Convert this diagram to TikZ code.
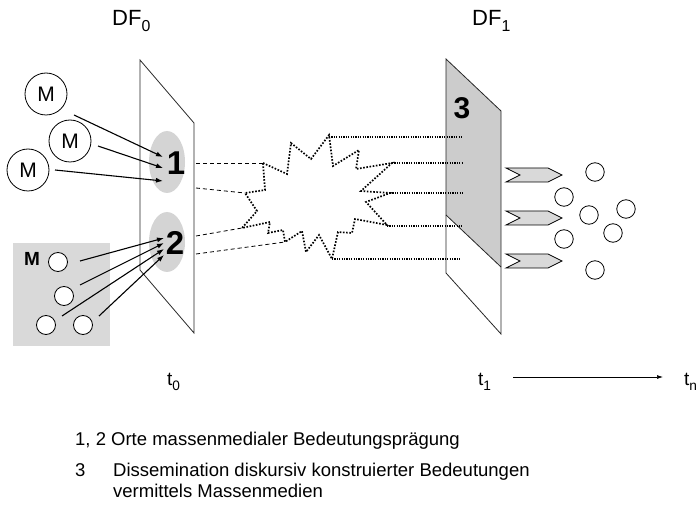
\documentclass[tikz,border=0pt]{standalone}
\usepackage{fontspec}
\setmainfont{Liberation Sans}
\usetikzlibrary{arrows.meta,shapes.geometric}
\newcommand{\lsub}[1]{\raisebox{-0.27em}{\scalebox{0.72}{#1}}}
\begin{document}
\begin{tikzpicture}[x=1pt,y=-1pt,
 plane/.style={draw=black!85,line width=0.8pt},
 hatch/.style={fill=black!17},
 mcirc/.style={circle,draw,line width=0.8pt,minimum size=42pt,inner sep=0pt,font=\fontsize{21}{21}\selectfont},
 scirc/.style={circle,draw,line width=0.8pt,minimum size=19pt,inner sep=0pt,fill=white},
 arr/.style={-{Latex[length=7pt,width=5pt]},line width=1.1pt},
 dline/.style={dash pattern=on 4pt off 3pt,line width=0.8pt},
 dotl/.style={dash pattern=on 1.6pt off 1.6pt,line width=1.7pt},
 dotr/.style={dash pattern=on 1.2pt off 1.2pt,line width=1.2pt},
 big/.style={font=\fontsize{33}{33}\selectfont\bfseries,inner sep=0pt},
 lbl/.style={font=\fontsize{22}{22}\selectfont,inner sep=0pt,anchor=base west},
 tlbl/.style={font=\fontsize{19}{19}\selectfont,inner sep=0pt,anchor=base west},
 leg/.style={font=\fontsize{18.5}{18.5}\selectfont,inner sep=0pt,anchor=base west},
 chev/.style={draw,line width=0.8pt,fill=black!15}
]
\useasboundingbox (0,0) rectangle (699,505);

% headings
\node[lbl] (df0) at (112,26) {DF\lsub{0}};
\node[lbl] (df1) at (472,26) {DF\lsub{1}};

% left plane
\draw[plane] (140,60) -- (194,123) -- (194,333) -- (140,270) -- cycle;
\node[ellipse,hatch,minimum width=36pt,minimum height=62pt,inner sep=0pt] (e1) at (167,162) {};
\node[ellipse,hatch,minimum width=36pt,minimum height=60pt,inner sep=0pt] (e2) at (167,242) {};
\node[big] (n1) at (176,163) {1};
\node[big] (n2) at (175,243) {2};

% M circles
\node[mcirc] (m1) at (46,94) {M};
\node[mcirc] (m2) at (70,141) {M};
\node[mcirc] (m3) at (28,170) {M};
\coordinate (a1) at (163,157);
\coordinate (a2) at (163,168);
\coordinate (a3) at (163,181);
\draw[arr] (74,115) -- (a1);
\draw[arr] (98,146) -- (a2);
\draw[arr] (55,170) -- (a3);

% grey box
\node[fill=black!15,minimum width=97pt,minimum height=103pt,inner sep=0pt] (box) at (61.5,294.5) {};
\node[font=\fontsize{19}{19}\selectfont\bfseries,inner sep=0pt] (bm) at (32,259) {M};
\node[scirc] (c1) at (58,262) {};
\node[scirc] (c2) at (64,296) {};
\node[scirc] (c3) at (46,325) {};
\node[scirc] (c4) at (83,325) {};
\coordinate (b1) at (164,238);
\coordinate (b2) at (164,243);
\coordinate (b3) at (164,249);
\coordinate (b4) at (164,255);
\draw[arr] (80,261) -- (b1);
\draw[arr] (80,285) -- (b2);
\draw[arr] (62,316) -- (b3);
\draw[arr] (99,316) -- (b4);

% star
\coordinate (s1) at (263,163);
\coordinate (s5) at (329,135);
\coordinate (s9) at (392,163);
\coordinate (s11) at (390,193);
\coordinate (s13) at (387,225);
\coordinate (s17) at (332,259);
\coordinate (s21) at (285,242);
\coordinate (s25) at (242,228);
\coordinate (s27) at (245,193);
\draw[dotl,line join=miter] (s1) -- (287,174) -- (291,143) -- (311,159) -- (s5) -- (333,166) -- (359,150) -- (356,169)
 -- (s9) -- (361,191) -- (s11) -- (366,202) -- (s13) -- (355,219) -- (352,233) -- (338,232) -- (s17)
 -- (319,235) -- (306,252) -- (302,231) -- (s21) -- (283,230) -- (268,233) -- (270,222) -- (s25)
 -- (257,211) -- (s27) -- (265,190) -- cycle;

% dashed connectors from left plane
\draw[dline] (196,163) -- (s1);
\draw[dline] (196,188) -- (s27);
\draw[dline] (196,236) -- (s25);
\draw[dline] (196,254) -- (s21);

% right plane
\fill[black!20] (446,59) -- (501,111) -- (501,267) -- (446,215) -- cycle;
\draw[plane] (446,59) -- (501,111) -- (501,334) -- (446,273) -- cycle;
\draw[plane] (446,215) -- (501,267);
\node[big,font=\fontsize{30}{30}\selectfont\bfseries] (n3) at (462,108) {3};

% dotted connectors to right plane
\coordinate (r1) at (463,137);
\coordinate (r2) at (463,163);
\coordinate (r3) at (463,193);
\coordinate (r4) at (462,226);
\coordinate (r5) at (461,259);
\draw[dotr] (s5) ++(0,2) -- (r1);
\draw[dotr] (s9) -- (r2);
\draw[dotr] (s11) -- (r3);
\draw[dotr] (s13) ++(0,1) -- (r4);
\draw[dotr] (s17) -- (r5);

% chevrons
\foreach \yy in {175,218,261}{
 \draw[chev] (506,\yy-7) -- (548,\yy-7) -- (562,\yy) -- (548,\yy+7) -- (506,\yy+7) -- (520,\yy) -- cycle;
}

% small circles right
\node[scirc,minimum size=18.5pt] (d1) at (595,172) {};
\node[scirc,minimum size=18.5pt] (d2) at (564,197) {};
\node[scirc,minimum size=18.5pt] (d3) at (589,215) {};
\node[scirc,minimum size=18.5pt] (d4) at (626,209) {};
\node[scirc,minimum size=18.5pt] (d5) at (613,233) {};
\node[scirc,minimum size=18.5pt] (d6) at (564,239) {};
\node[scirc,minimum size=18.5pt] (d7) at (595,270) {};

% time axis
\node[tlbl] (t0) at (167,385) {t\lsub{0}};
\node[tlbl] (t1) at (478,385) {t\lsub{1}};
\node[tlbl] (tn) at (684,385) {t\lsub{n}};
\draw[-{Latex[length=6pt,width=4pt]},line width=0.7pt] (513,377) -- (663,377);

% legend
\node[leg] (l1) at (75,445) {1, 2 Orte massenmedialer Bedeutungsprägung};
\node[leg] (l2) at (75,476) {3};
\node[leg] (l3) at (113,476) {Dissemination diskursiv konstruierter Bedeutungen};
\node[leg] (l4) at (113,497) {vermittels Massenmedien};
\end{tikzpicture}
\end{document}
